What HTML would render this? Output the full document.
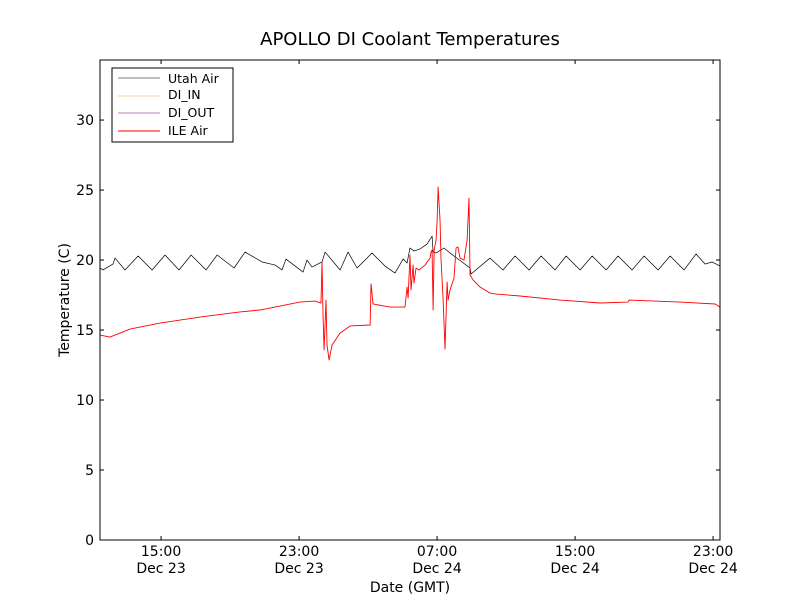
<!DOCTYPE html>
<html><head><meta charset="utf-8"><style>
body{margin:0;background:#fff;}
svg{display:block;font-family:"DejaVu Sans","Liberation Sans",sans-serif;}
</style></head><body>
<svg id="chart" width="800" height="600">
<rect width="800" height="600" fill="#fff"/>
<text x="410" y="45" font-size="18" text-anchor="middle">APOLLO DI Coolant Temperatures</text>
<g id="plot"></g>
<g id="axes"></g>
<text x="69" y="300" font-size="14" text-anchor="middle" transform="rotate(-90 69 300)">Temperature (C)</text>
<text x="410" y="592" font-size="14" text-anchor="middle">Date (GMT)</text>
<g>
<rect x="112" y="68" width="121" height="74" fill="#fff" stroke="#000" stroke-width="1"/>
<g><line x1="118" y1="78" x2="160" y2="78" stroke="#000" stroke-width="0.6"/><text x="168" y="83" font-size="12.5">Utah Air</text></g>
<g><line x1="118" y1="96" x2="160" y2="96" stroke="#e8a040" stroke-width="0.6"/><text x="168" y="99" font-size="12.5">DI_IN</text></g>
<g><line x1="118" y1="113" x2="160" y2="113" stroke="#800080" stroke-width="0.6"/><text x="168" y="117" font-size="12.5">DI_OUT</text></g>
<g><line x1="118" y1="131" x2="160" y2="131" stroke="#f00" stroke-width="0.9"/><text x="168" y="135" font-size="12.5">ILE Air</text></g>
</g>
</svg>
<script>
const xTickHours=[15,23,31,39,47];
const xTickTimes=["15:00","23:00","07:00","15:00","23:00"];
const xTickDates=["Dec 23","Dec 23","Dec 24","Dec 24","Dec 24"];
const yTicks=[0,5,10,15,20,25,30];
const utahHours=[11.46,11.63,12.21,12.33,12.91,13.67,14.48,15.23,16.04,16.74,17.61,18.25,19.23,19.87,20.86,21.61,22.01,22.24,23.23,23.46,23.75,24.33,24.51,25.38,25.84,26.36,27.23,27.98,28.56,29.03,29.26,29.43,29.66,30.01,30.42,30.71,30.77,30.94,31.40,31.75,32.91,32.97,34.07,34.82,35.52,36.33,37.03,37.84,38.48,39.29,39.99,40.80,41.49,42.30,43.00,43.81,44.51,45.32,46.01,46.54,46.94,47.40];
const utahTemps=[19.43,19.29,19.71,20.14,19.29,20.29,19.29,20.36,19.29,20.36,19.29,20.36,19.43,20.57,19.86,19.64,19.29,20.07,19.14,20.0,19.5,19.86,20.57,19.29,20.57,19.43,20.5,19.57,19.07,20.07,19.79,20.86,20.64,20.79,21.14,21.71,20.57,20.5,20.86,20.5,19.43,19.0,20.14,19.29,20.29,19.29,20.29,19.29,20.29,19.29,20.29,19.29,20.29,19.29,20.29,19.29,20.29,19.29,20.43,19.71,19.86,19.57];
const ileHours=[11.46,12.04,13.20,14.94,17.26,19.57,20.73,21.89,23.05,23.92,24.27,24.33,24.39,24.45,24.56,24.62,24.74,24.91,25.38,25.96,27.12,27.17,27.29,28.27,29.14,29.26,29.32,29.43,29.49,29.61,29.66,29.78,29.95,30.30,30.59,30.65,30.71,30.77,30.83,30.94,31.00,31.06,31.17,31.23,31.35,31.46,31.58,31.64,31.75,31.98,32.10,32.21,32.33,32.56,32.74,32.85,32.91,33.09,33.49,34.07,34.42,35.81,38.13,40.45,42.07,42.13,45.09,47.12,47.40];
const ileTemps=[14.64,14.5,15.07,15.5,15.93,16.29,16.43,16.71,17.0,17.07,16.93,19.86,15.93,13.57,17.14,13.93,12.86,13.93,14.79,15.29,15.36,18.29,16.86,16.64,16.64,18.07,17.29,20.36,17.86,19.64,18.36,19.43,19.29,19.64,20.14,20.57,20.71,16.43,20.71,21.43,22.71,25.21,22.86,20.0,17.14,13.64,18.43,17.14,17.86,18.71,20.86,20.93,20.14,20.0,21.43,24.43,18.93,18.57,18.07,17.64,17.57,17.43,17.14,16.93,17.0,17.14,17.0,16.86,16.64];

const L=100,R=720,T=60,B=540,H0=11.46,H1=47.40,YMAX=34.29;
const xs=h=>L+(h-H0)/(H1-H0)*(R-L);
const ys=v=>B-v/YMAX*(B-T);
const NS="http://www.w3.org/2000/svg";
const plot=document.getElementById('plot'),axes=document.getElementById('axes');
function mk(tag,attrs,parent){const e=document.createElementNS(NS,tag);for(const k in attrs)e.setAttribute(k,attrs[k]);parent.appendChild(e);return e;}
function series(hs,vs,color,w,name){
  let d='';hs.forEach((h,i)=>{d+=(i?'L':'M')+xs(h).toFixed(2)+' '+ys(vs[i]).toFixed(2);});
  const p=mk('path',{d:d,fill:'none',stroke:color,'stroke-width':w,'stroke-linejoin':'round'},plot);
  
  
}
series(utahHours,utahTemps,'#000',0.7,'utah-air-line');
series(ileHours,ileTemps,'#f00',0.9,'ile-air-line');
const frame=mk('rect',{x:L,y:T,width:R-L,height:B-T,fill:'none',stroke:'#000','stroke-width':1},axes);


yTicks.forEach(v=>{
  const y=ys(v);
  mk('line',{x1:L,y1:y,x2:L+4,y2:y,stroke:'#000'},axes);
  mk('line',{x1:R,y1:y,x2:R-4,y2:y,stroke:'#000'},axes);
  const t=mk('text',{x:L-6,y:y+5,'font-size':14,'text-anchor':'end'},axes);
  t.textContent=v;
  
  
});
xTickHours.forEach((h,i)=>{
  const x=xs(h);
  mk('line',{x1:x,y1:B,x2:x,y2:B-4,stroke:'#000'},axes);
  mk('line',{x1:x,y1:T,x2:x,y2:T+4,stroke:'#000'},axes);
  const t=mk('text',{x:x,y:556,'font-size':14,'text-anchor':'middle'},axes);
  t.textContent=xTickTimes[i];
  
  
  const t2=mk('text',{x:x,y:573,'font-size':14,'text-anchor':'middle'},axes);
  t2.textContent=xTickDates[i];
  
  
});
</script>
</body></html>
